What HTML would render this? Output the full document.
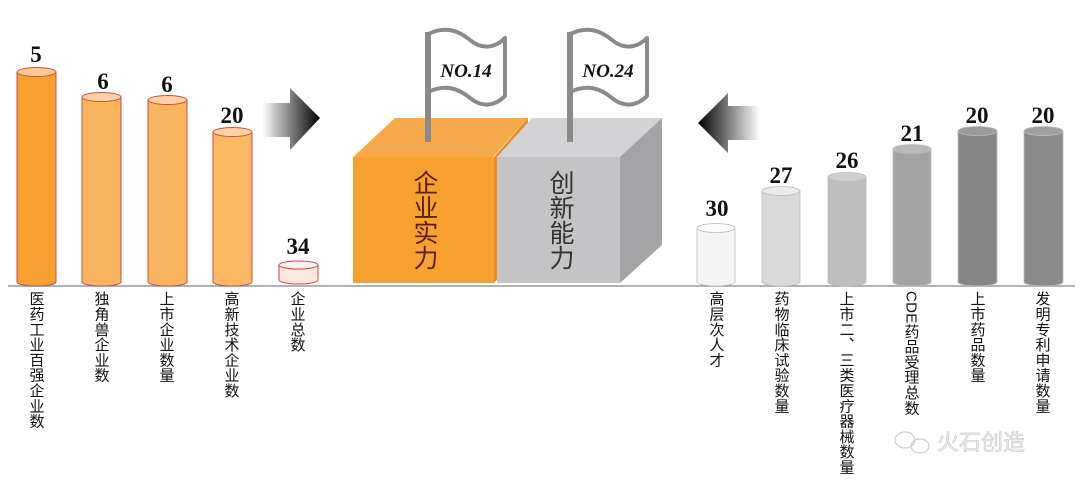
<!DOCTYPE html>
<html><head><meta charset="utf-8"><style>
body{margin:0;background:#fff;width:1080px;height:489px;overflow:hidden;position:relative;font-family:"Liberation Sans","Noto Sans CJK SC",sans-serif}
svg{position:absolute;left:0;top:0}
.l{position:absolute;top:291px;writing-mode:vertical-rl;font-size:15px;line-height:15px;color:#111;letter-spacing:0.3px;transform:translateX(-50%)}
.n{font-family:"Liberation Serif",serif;font-weight:bold;font-size:23px;text-anchor:middle;fill:#111}
</style></head><body>
<svg width="1080" height="489" viewBox="0 0 1080 489">
<defs>
<linearGradient id="ar" x1="0" x2="1"><stop offset="0" stop-color="#fff"/><stop offset="1" stop-color="#000"/></linearGradient>
<linearGradient id="al" x1="1" x2="0"><stop offset="0" stop-color="#fff"/><stop offset="1" stop-color="#000"/></linearGradient>
</defs>
<line x1="8" y1="286" x2="1075" y2="286" stroke="#999" stroke-width="1.5"/>
<g stroke="#c0504d" stroke-width="1">
<path d="M17 72 V282 A19.5 4 0 0 0 56 282 V72" fill="#f7a032"/><ellipse cx="36.5" cy="72" rx="19.5" ry="4.5" fill="#fcc896"/>
<path d="M82 97 V282 A19.5 4 0 0 0 121 282 V97" fill="#fbb45e"/><ellipse cx="101.5" cy="97" rx="19.5" ry="4.5" fill="#fdd0a6"/>
<path d="M148 100 V282 A19.5 4 0 0 0 187 282 V100" fill="#fbb45e"/><ellipse cx="167.5" cy="100" rx="19.5" ry="4.5" fill="#fdd0a6"/>
<path d="M213 132 V282 A19.5 4 0 0 0 252 282 V132" fill="#fbb862"/><ellipse cx="232.5" cy="132" rx="19.5" ry="4.5" fill="#fdd0a6"/>
<path d="M279 265 V280 A19.5 4 0 0 0 318 280 V265" fill="#fde6dc"/><ellipse cx="298.5" cy="265" rx="19.5" ry="4" fill="#fff0ea"/>
</g>
<text class="n" x="36" y="62">5</text>
<text class="n" x="103" y="89">6</text>
<text class="n" x="167" y="92">6</text>
<text class="n" x="232" y="123">20</text>
<text class="n" x="298" y="254">34</text>
<path d="M262 103 H290 V88 L320 118 L290 150 V137 H262 Z" fill="url(#ar)"/>
<path d="M760 106 H728 V93 L698 123 L728 153 V140 H760 Z" fill="url(#al)"/>
<polygon points="353,157 395,118 528,118 493,157" fill="#f6a94b"/>
<rect x="353" y="157" width="141" height="126" fill="#f7a12e"/>
<polygon points="494,157 528,118 528,245 494,283" fill="#e68f1f"/>
<polygon points="497,157 532,118 662,118 620,157" fill="#d2d2d4"/>
<rect x="497" y="157" width="123" height="126" fill="#c4c4c6"/>
<polygon points="620,157 662,118 662,245 620,283" fill="#a4a4a6"/>
<g fill="#fff" stroke="#8a8a8a" stroke-width="4" stroke-linejoin="round">
<path d="M428 34 C445 26 458 30 470 40 C482 50 495 48 505 38 V96 C495 106 482 108 470 98 C458 88 445 84 428 92 Z"/>
<path d="M570 34 C587 26 600 30 612 40 C624 50 637 48 647 38 V96 C637 106 624 108 612 98 C600 88 587 84 570 92 Z"/>
</g>
<line x1="428" y1="32" x2="428" y2="142" stroke="#8a8a8a" stroke-width="6"/>
<line x1="570" y1="32" x2="570" y2="142" stroke="#8a8a8a" stroke-width="6"/>
<text x="466" y="77" font-family="Liberation Serif" font-style="italic" font-weight="bold" font-size="19" text-anchor="middle" fill="#111">NO.14</text>
<text x="608" y="77" font-family="Liberation Serif" font-style="italic" font-weight="bold" font-size="19" text-anchor="middle" fill="#111">NO.24</text>
<g stroke="#bbb" stroke-width="0.8">
<path d="M697 228 V282 A19 4 0 0 0 735 282 V228" fill="#f4f4f4"/><ellipse cx="716" cy="228" rx="19" ry="4.5" fill="#fafafa"/>
<path d="M762 191 V282 A19 4 0 0 0 800 282 V191" fill="#d9d9d9"/><ellipse cx="781" cy="191" rx="19" ry="4.5" fill="#ececec"/>
<path d="M828 177 V282 A19 4 0 0 0 866 282 V177" fill="#bebebe"/><ellipse cx="847" cy="177" rx="19" ry="4.5" fill="#d0d0d0"/>
<path d="M893 149 V282 A19 4 0 0 0 931 282 V149" fill="#a3a3a3"/><ellipse cx="912" cy="149" rx="19" ry="4.5" fill="#b8b8b8"/>
<path d="M958 131 V282 A19.5 4 0 0 0 997 282 V131" fill="#858585"/><ellipse cx="977.5" cy="131" rx="19.5" ry="4.5" fill="#9a9a9a"/>
<path d="M1024 131 V282 A19.5 4 0 0 0 1063 282 V131" fill="#8a8a8a"/><ellipse cx="1043.5" cy="131" rx="19.5" ry="4.5" fill="#a0a0a0"/>
</g>
<text class="n" x="717" y="216">30</text>
<text class="n" x="781" y="183">27</text>
<text class="n" x="847" y="168">26</text>
<text class="n" x="912" y="141">21</text>
<text class="n" x="977" y="123">20</text>
<text class="n" x="1043" y="123">20</text>
<g fill="none" stroke="#ccc" stroke-width="1.2"><ellipse cx="905" cy="440" rx="10" ry="8"/><ellipse cx="920" cy="446" rx="9" ry="7"/></g>
<text x="937" y="450" font-size="22" fill="#eee" stroke="#c8c8c8" stroke-width="0.6" font-family="Noto Sans CJK SC">火石创造</text>
</svg>
<div style="position:absolute;left:411px;top:170px;writing-mode:vertical-rl;font-size:25px;line-height:25px;color:#5a1e08">企业实力</div>
<div style="position:absolute;left:547px;top:170px;writing-mode:vertical-rl;font-size:25px;line-height:25px;color:#333">创新能力</div>
<div class="l" style="left:36px">医药工业百强企业数</div>
<div class="l" style="left:101px">独角兽企业数</div>
<div class="l" style="left:166px">上市企业数量</div>
<div class="l" style="left:231px">高新技术企业数</div>
<div class="l" style="left:297px">企业总数</div>
<div class="l" style="left:716px">高层次人才</div>
<div class="l" style="left:781px">药物临床试验数量</div>
<div class="l" style="left:846px">上市二、三类医疗器械数量</div>
<div class="l" style="left:911px">CDE药品受理总数</div>
<div class="l" style="left:977px">上市药品数量</div>
<div class="l" style="left:1042px">发明专利申请数量</div>
</body></html>
